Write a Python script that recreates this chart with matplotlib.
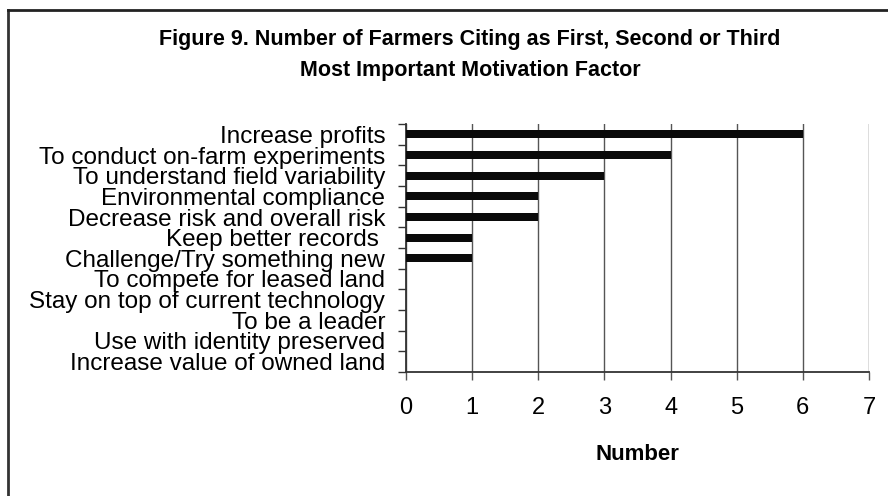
import matplotlib
matplotlib.use("Agg")
import matplotlib.pyplot as plt
from matplotlib.lines import Line2D
import numpy as np

plt.rcParams['font.family'] = ['Liberation Sans', 'DejaVu Sans']

categories = [
    "Increase profits",
    "To conduct on-farm experiments",
    "To understand field variability",
    "Environmental compliance",
    "Decrease risk and overall risk",
    "Keep better records ",
    "Challenge/Try something new",
    "To compete for leased land",
    "Stay on top of current technology",
    "To be a leader",
    "Use with identity preserved",
    "Increase value of owned land",
]
counts = [6, 4, 3, 2, 2, 1, 1, 0, 0, 0, 0, 0]
x_ticks = [0, 1, 2, 3, 4, 5, 6, 7]

title = ("Figure 9. Number of Farmers Citing as First, Second or Third\n"
         "Most Important Motivation Factor")
x_label = "Number"

fig = plt.figure(figsize=(8.88, 4.96), dpi=100)
ax = fig.add_axes([406 / 888, 1 - 372 / 496, (869 - 406) / 888, (372 - 124) / 496])

y = np.arange(len(categories))
ax.barh(y, counts, height=0.4, color='#0a0a0a', zorder=3)

ax.set_xlim(0, 7)
ax.set_ylim(len(categories) - 0.5, -0.5)
ax.set_xticks(x_ticks)
ax.set_xticklabels([str(t) for t in x_ticks], fontsize=17)
ax.set_yticks(y)
ax.set_yticklabels(categories, fontsize=17.5)
ax.set_yticks(np.arange(-0.5, len(categories), 1.0), minor=True)

ax.tick_params(axis='y', which='major', length=0, pad=15)
ax.tick_params(axis='y', which='minor', length=6, width=1, color='#333333', direction='out')
ax.tick_params(axis='x', which='major', length=6, width=1, color='#555555', direction='out', pad=12)

ax.grid(axis='x', color='#555555', linewidth=1, zorder=0)
ax.set_axisbelow(True)
for side in ('top', 'right'):
    ax.spines[side].set_visible(False)
for side in ('left', 'bottom'):
    ax.spines[side].set_color('#333333')
    ax.spines[side].set_linewidth(1.3)

ax.set_xlabel(x_label, fontsize=16, fontweight='bold', labelpad=18)

fig.text(470 / 888, 1 - 55 / 496, title, ha='center', va='center', fontsize=15.5,
         fontweight='bold', linespacing=1.65)

# chart frame
fig.add_artist(Line2D([8 / 888, 8 / 888], [0, 1 - 10 / 496], color='#333333', linewidth=2))
fig.add_artist(Line2D([8 / 888, 1], [1 - 10 / 496, 1 - 10 / 496], color='#222222', linewidth=2))

fig.savefig("out.png", dpi=100)
